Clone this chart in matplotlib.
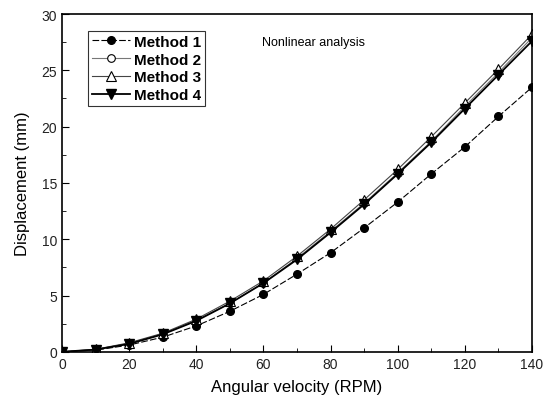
import matplotlib
matplotlib.use("Agg")
import matplotlib.pyplot as plt
from matplotlib.ticker import MultipleLocator

plt.rcParams['font.family'] = ['Liberation Sans', 'DejaVu Sans']

x = [0, 10, 20, 30, 40, 50, 60, 70, 80, 90, 100, 110, 120, 130, 140]
m1 = [0, 0.15, 0.6, 1.3, 2.3, 3.6, 5.1, 6.9, 8.8, 11.0, 13.3, 15.8, 18.2, 20.9, 23.5]
m2 = [0, 0.2, 0.75, 1.6, 2.8, 4.3, 6.1, 8.3, 10.7, 13.2, 15.9, 18.7, 21.8, 24.8, 27.9]
m3 = [0, 0.22, 0.8, 1.65, 2.9, 4.5, 6.3, 8.5, 10.9, 13.5, 16.2, 19.1, 22.1, 25.1, 28.2]
m4 = [0, 0.2, 0.7, 1.55, 2.75, 4.3, 6.1, 8.2, 10.6, 13.1, 15.8, 18.6, 21.6, 24.6, 27.6]

fig = plt.figure(figsize=(5.44, 4.06), dpi=100)
ax = fig.add_axes([0.114, 0.131, 0.864, 0.832])

ax.plot(x, m1, color='black', lw=0.8, ls=(0, (6, 2)), marker='o', ms=5.5, mfc='black', mec='black', label='Method 1')
ax.plot(x, m2, color='#777777', lw=0.8, marker='o', ms=5.5, mfc='white', mec='black', mew=0.8, label='Method 2')
ax.plot(x, m3, color='#444444', lw=0.8, marker='^', ms=6.5, mfc='white', mec='black', mew=0.8, label='Method 3')
ax.plot(x, m4, color='black', lw=1.3, marker='v', ms=6.5, mfc='black', mec='black', label='Method 4')

ax.set_xlim(0, 140)
ax.set_ylim(0, 30)
ax.xaxis.set_major_locator(MultipleLocator(20))
ax.xaxis.set_minor_locator(MultipleLocator(10))
ax.yaxis.set_major_locator(MultipleLocator(5))
ax.yaxis.set_minor_locator(MultipleLocator(2.5))
ax.tick_params(which='both', direction='in', labelsize=10, colors='black', labelcolor='#222222')
ax.tick_params(which='major', length=5)
ax.tick_params(which='minor', length=3)
for s in ax.spines.values():
    s.set_linewidth(1.2)

ax.set_xlabel('Angular velocity (RPM)', fontsize=12, labelpad=6)
ax.set_ylabel('Displacement (mm)', fontsize=12, labelpad=8)

ax.text(75, 27.5, 'Nonlinear analysis', fontsize=9, ha='center', va='center')

leg = ax.legend(loc='upper left', bbox_to_anchor=(0.055, 0.95), frameon=True, fancybox=False,
                edgecolor='black', prop={'weight': 'bold', 'size': 11}, handlelength=2.5,
                borderpad=0.25, labelspacing=0.25, handletextpad=0.3, borderaxespad=0)
leg.get_frame().set_linewidth(0.8)

fig.savefig('out.png', dpi=100)
